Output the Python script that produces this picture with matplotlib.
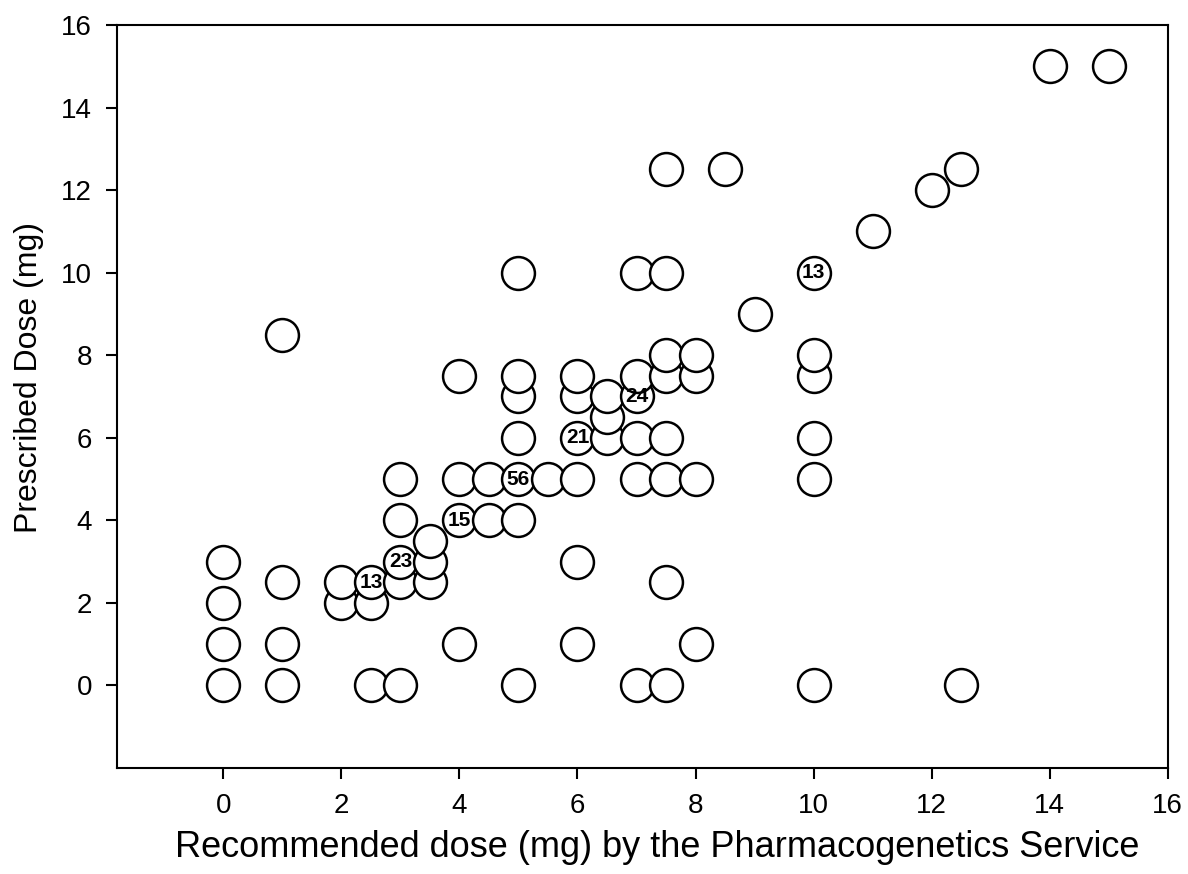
import matplotlib
matplotlib.use("Agg")
import matplotlib.pyplot as plt

plt.rcParams['font.family'] = ['Liberation Sans', 'DejaVu Sans']

recommended = [0, 0, 0, 0,
               1, 1, 1, 1,
               2, 2,
               2.5, 2.5, 2.5,
               3, 3, 3, 3, 3,
               3.5, 3.5, 3.5,
               4, 4, 4, 4,
               4.5, 4.5,
               5, 5, 5, 5, 5, 5, 5,
               5.5,
               6, 6, 6, 6, 6, 6,
               6.5, 6.5, 6.5,
               7, 7, 7, 7, 7, 7,
               7.5, 7.5, 7.5, 7.5, 7.5, 7.5, 7.5, 7.5,
               8, 8, 8, 8,
               8.5, 9,
               10, 10, 10, 10, 10, 10,
               11, 12, 12.5, 12.5, 14, 15]
prescribed = [0, 1, 2, 3,
              0, 1, 2.5, 8.5,
              2, 2.5,
              0, 2, 2.5,
              0, 2.5, 3, 4, 5,
              2.5, 3, 3.5,
              1, 4, 5, 7.5,
              4, 5,
              0, 4, 5, 6, 7, 7.5, 10,
              5,
              1, 3, 5, 6, 7, 7.5,
              6, 6.5, 7,
              0, 5, 6, 7, 7.5, 10,
              0, 2.5, 5, 6, 7.5, 8, 10, 12.5,
              1, 5, 7.5, 8,
              12.5, 9,
              0, 5, 6, 7.5, 8, 10,
              11, 12, 0, 12.5, 15, 15]

# counts of overlapping patients
count_x = [2.5, 3, 4, 5, 6, 7, 10]
count_y = [2.5, 3, 4, 5, 6, 7, 10]
count_n = ['13', '23', '15', '56', '21', '24', '13']

fig = plt.figure(figsize=(11.88, 8.74), dpi=100)
ax = fig.add_axes([0.0985, 0.1213, 0.8845, 0.8501])

ax.scatter(recommended, prescribed, s=560, facecolor='white', edgecolor='black',
           linewidth=1.8, zorder=3)
for x, y, n in zip(count_x, count_y, count_n):
    ax.text(x, y, n, ha='center', va='center', fontsize=15, fontweight='bold', zorder=4)

ax.set_xlim(-1.8, 16)
ax.set_ylim(-2, 16)
ax.set_xticks(range(0, 17, 2))
ax.set_yticks(range(0, 17, 2))
ax.tick_params(direction='out', length=8, width=1.5, labelsize=20, top=False, right=False, pad=10)
for s in ax.spines.values():
    s.set_linewidth(1.5)

ax.set_xlabel('Recommended dose (mg) by the Pharmacogenetics Service', fontsize=26)
ax.set_ylabel('Prescribed Dose (mg)', fontsize=23)
ax.xaxis.set_label_coords(0.514, -0.083)
ax.yaxis.set_label_coords(-0.0695, 0.525)

plt.savefig('out.png', dpi=100)
